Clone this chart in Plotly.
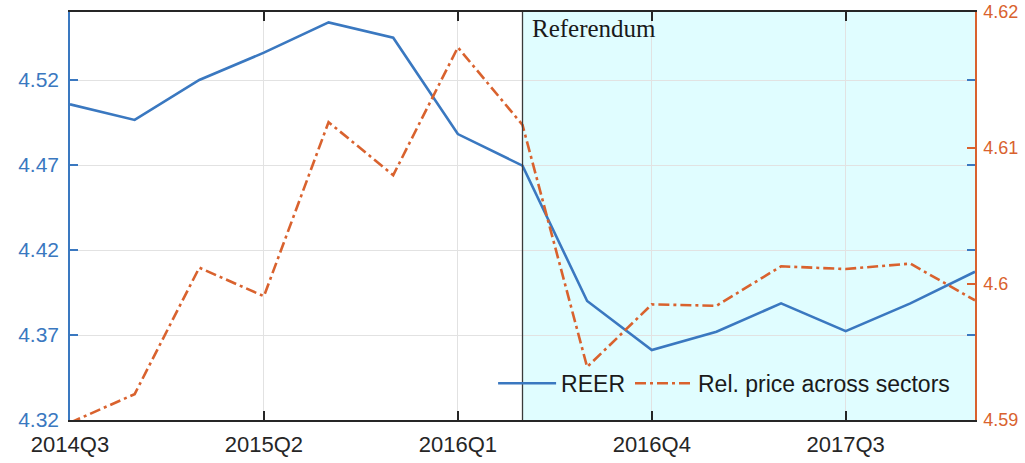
import plotly.graph_objects as go

# Quarterly series
quarters = ["2014Q3", "2014Q4", "2015Q1", "2015Q2", "2015Q3", "2015Q4",
            "2016Q1", "2016Q2", "2016Q3", "2016Q4", "2017Q1", "2017Q2",
            "2017Q3", "2017Q4", "2018Q1"]
reer = [4.5057, 4.4965, 4.5200, 4.5361, 4.5539, 4.5449, 4.4882, 4.4696,
        4.3900, 4.3612, 4.3719, 4.3886, 4.3723, 4.3886, 4.4072]
rel_price = [4.5898, 4.5919, 4.6012, 4.5991, 4.6119, 4.6080, 4.6174, 4.6117,
             4.5939, 4.5985, 4.5984, 4.6013, 4.6011, 4.6015, 4.5988]

x_ticks = ["2014Q3", "2015Q2", "2016Q1", "2016Q4", "2017Q3"]
left_ticks = [4.32, 4.37, 4.42, 4.47, 4.52]
right_ticks = [4.59, 4.60, 4.61, 4.62]
right_tick_text = ["4.59", "4.6", "4.61", "4.62"]
event_quarter = "2016Q2"
event_label = "Referendum"

BLUE = "#3A78C0"
ORANGE = "#D9622E"
DARK = "#262626"
xpos = list(range(len(quarters)))
event_x = quarters.index(event_quarter)

fig = go.Figure()
fig.add_trace(go.Scatter(x=xpos, y=reer, mode="lines", name="REER",
                         line=dict(color=BLUE, width=2.6), yaxis="y"))
fig.add_trace(go.Scatter(x=xpos, y=rel_price, mode="lines",
                         name="Rel. price across sectors",
                         line=dict(color=ORANGE, width=2.6, dash="11px,4px,3px,4px"),
                         yaxis="y2"))

# Post-referendum shading and marker line
fig.add_shape(type="rect", xref="x", yref="paper", x0=event_x, x1=xpos[-1],
              y0=0, y1=1, fillcolor="#E0FDFF", line=dict(width=0), layer="between")
fig.add_shape(type="line", xref="x", yref="paper", x0=event_x, x1=event_x,
              y0=0, y1=1, line=dict(color="#3A3A3A", width=1.3), layer="above")
fig.add_annotation(x=event_x, y=1, xref="x", yref="paper", text=event_label,
                   showarrow=False, xanchor="left", yanchor="top", xshift=7, yshift=-1,
                   font=dict(family="Liberation Serif", size=25, color="#1A1A1A"))

fig.update_layout(
    width=1025, height=463,
    margin=dict(l=70, r=50, t=12, b=43),
    paper_bgcolor="white", plot_bgcolor="white",
    font=dict(family="Liberation Sans", size=20),
    showlegend=True,
    legend=dict(orientation="h", x=0.978, xanchor="right", y=0.09, yanchor="middle",
                bgcolor="rgba(0,0,0,0)", borderwidth=0,
                font=dict(size=23, color="#1A1A1A"), itemwidth=58),
    xaxis=dict(range=[0, xpos[-1]], tickmode="array", automargin=False,
               tickvals=[quarters.index(q) for q in x_ticks], ticktext=x_ticks,
               showgrid=True, gridcolor="#E2E2E2", gridwidth=1,
               showline=True, linecolor=DARK, linewidth=1.5, mirror="ticks",
               ticks="inside", ticklen=9, tickcolor=DARK, tickwidth=1.5,
               tickfont=dict(size=22, color="#262626"), ticklabelstandoff=4,
               zeroline=False),
    yaxis=dict(range=[4.32, 4.56], tickmode="array", tickvals=left_ticks,
               ticktext=[f"{v:.2f}" for v in left_ticks], automargin=False,
               showgrid=True, gridcolor="#E2E2E2", gridwidth=1,
               showline=True, linecolor=BLUE, linewidth=1.5, mirror="ticks",
               ticks="inside", ticklen=8, tickcolor=BLUE, tickwidth=1.5,
               tickfont=dict(size=21, color=BLUE), ticklabelstandoff=5,
               zeroline=False),
    yaxis2=dict(range=[4.59, 4.62], overlaying="y", side="right", automargin=False,
                tickmode="array", tickvals=right_ticks, ticktext=right_tick_text,
                showgrid=False, showline=True, linecolor=ORANGE, linewidth=1.5,
                ticks="inside", ticklen=8, tickcolor=ORANGE, tickwidth=1.5,
                tickfont=dict(size=18, color=ORANGE), ticklabelstandoff=3,
                zeroline=False),
)

fig.write_html("out.html")
